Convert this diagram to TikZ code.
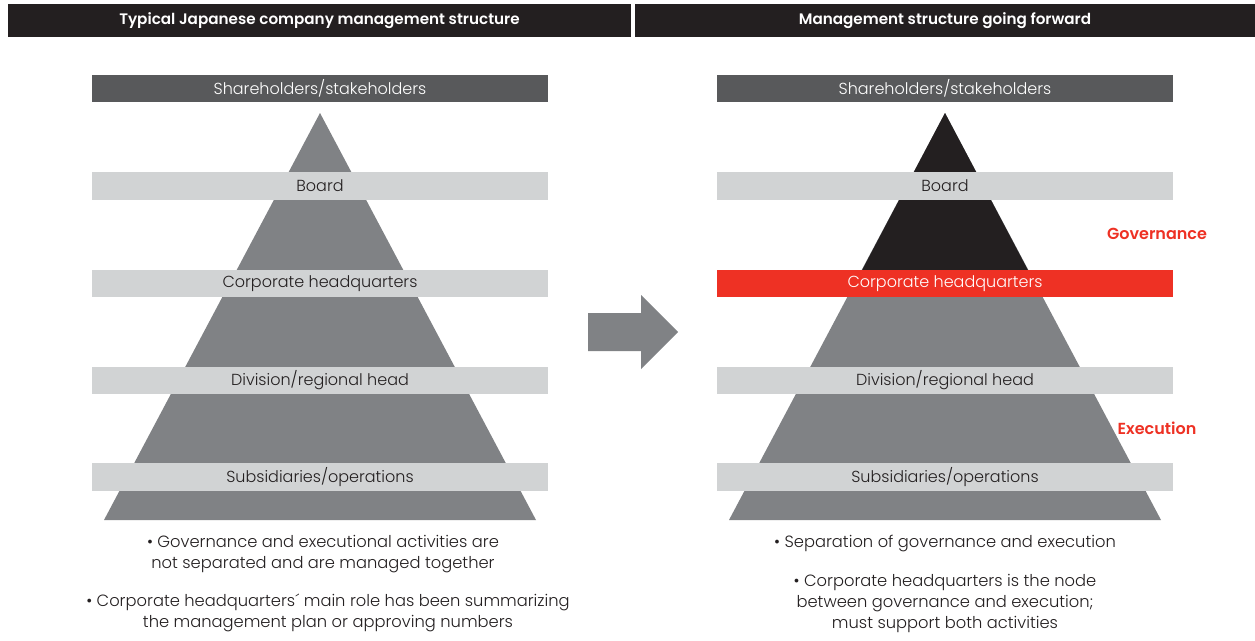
\documentclass[tikz,border=0pt]{standalone}
\usepackage{fontspec}
\setmainfont{Poppins Light}
\newfontfamily\hfont{Poppins SemiBold}
\definecolor{hdrblack}{HTML}{231F20}
\definecolor{bardark}{HTML}{58595B}
\definecolor{barlight}{HTML}{D1D3D4}
\definecolor{trigray}{HTML}{808285}
\definecolor{topblack}{HTML}{231F20}
\definecolor{accred}{HTML}{EE3124}
\definecolor{txtdark}{HTML}{231F20}
\begin{document}
\begin{tikzpicture}[x=1pt,y=-1pt,
  hdr/.style={fill=hdrblack, text=white, font=\hfont\fontsize{15.2}{17}\selectfont, inner sep=0pt, minimum height=33pt},
  bar/.style={inner sep=0pt, minimum width=456pt, minimum height=27.5pt, font=\fontsize{16}{18}\selectfont},
  lightbar/.style={bar, fill=barlight, text=txtdark},
  darkbar/.style={bar, fill=bardark, text=white},
  redbar/.style={bar, fill=accred, text=white},
  redlabel/.style={text=accred, font=\hfont\fontsize{16}{18}\selectfont, inner sep=0pt},
  note/.style={align=center, text=txtdark, font=\fontsize{16.3}{21}\selectfont, inner sep=0pt},
]
\useasboundingbox (0,0) rectangle (1255,640);
\fill[white] (0,0) rectangle (1255,640);

% headers
\node[hdr, minimum width=623pt] (h1) at (319.5,20.5) {Typical Japanese company management structure};
\node[hdr, minimum width=620pt] (h2) at (945,20.5) {Management structure going forward};

% left pyramid
\fill[trigray] (320,113) -- (536,520) -- (104,520) -- cycle;
\node[darkbar]  (lsh)  at (320,88.5)  {Shareholders/stakeholders};
\node[lightbar] (lbd)  at (320,186)   {Board};
\node[lightbar] (lhq)  at (320,283.5) {Corporate headquarters};
\node[lightbar] (ldiv) at (320,380.5) {Division/regional head};
\node[lightbar] (lsub) at (320,477)   {Subsidiaries/operations};

% right pyramid
\fill[trigray] (945,113) -- (1161,520) -- (729,520) -- cycle;
\fill[topblack] (945,113) -- (1035,283.5) -- (855,283.5) -- cycle;
\node[darkbar]  (rsh)  at (945,88.5)  {Shareholders/stakeholders};
\node[lightbar] (rbd)  at (945,186)   {Board};
\node[redbar]   (rhq)  at (945,283.5) {Corporate headquarters};
\node[lightbar] (rdiv) at (945,380.5) {Division/regional head};
\node[lightbar] (rsub) at (945,477)   {Subsidiaries/operations};

\node[redlabel] (gov) at (1157,234) {Governance};
\node[redlabel] (exe) at (1157,428) {Execution};

% arrow
\fill[trigray] (588,313) -- (641,313) -- (641,295) -- (678,332) -- (641,369) -- (641,351) -- (588,351) -- cycle;

% notes
\node[note] (ln1) at (323,554) {• Governance and executional activities are\\not separated and are managed together};
\node[note] (ln2) at (328,613) {• Corporate headquarters´ main role has been summarizing\\the management plan or approving numbers};
\node[note] (rn1) at (945,544) {• Separation of governance and execution};
\node[note] (rn2) at (945,603) {• Corporate headquarters is the node\\between governance and execution;\\must support both activities};
\end{tikzpicture}
\end{document}
